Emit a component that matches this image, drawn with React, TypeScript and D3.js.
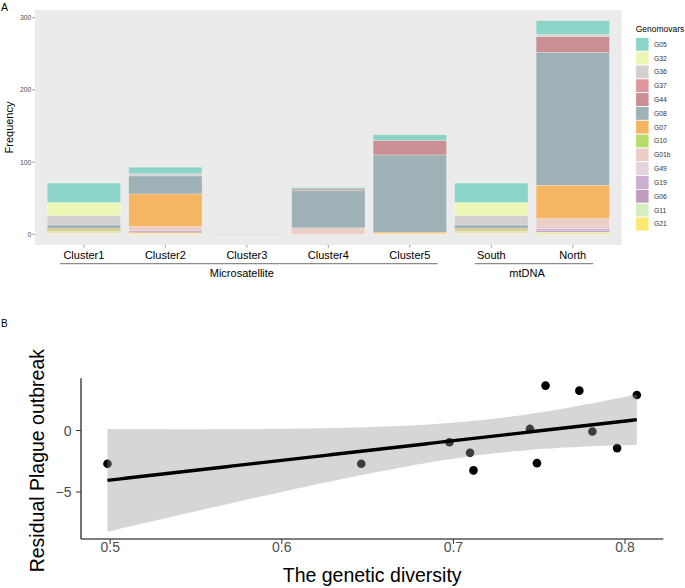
import React from "react";
import * as d3 from "d3";

// ---------- Panel A data ----------
const categories = ["Cluster1", "Cluster2", "Cluster3", "Cluster4", "Cluster5", "South", "North"];
const categoryGroup = ["Microsatellite", "Microsatellite", "Microsatellite", "Microsatellite", "Microsatellite", "mtDNA", "mtDNA"];
const groupLabels = ["Microsatellite", "mtDNA"];
const genomovars = ["G05", "G32", "G36", "G37", "G44", "G08", "G07", "G10", "G01b", "G49", "G19", "G06", "G11", "G21"];
const genomovarColors = ["#8dd4c8", "#edf7b5", "#d3d0cf", "#e0959e", "#c98f94", "#9eb1b7", "#f6b562", "#b8dc6b", "#ebcfc6", "#e4d3dc", "#cbaed0", "#c09dbf", "#d5edbf", "#fde872"];
// values per category (Cluster1..North)
const G05 = [27, 9, 0, 2, 8, 27, 19];
const G32 = [18, 0, 0, 0, 0, 18, 0];
const G36 = [13, 3, 0, 0, 0, 13, 3];
const G37 = [0, 0, 0, 0, 0, 0, 0];
const G44 = [0, 0, 0, 2, 20, 0, 22];
const G08 = [5, 25, 0, 52, 107, 5, 184];
const G07 = [2, 45, 0, 0, 2, 2, 46];
const G10 = [2, 0, 0, 0, 0, 2, 0];
const G01b = [2, 6, 0, 9, 0, 2, 14];
const G49 = [0, 0, 0, 0, 0, 0, 0];
const G19 = [0, 3, 0, 0, 0, 0, 3];
const G06 = [0, 0, 0, 0, 0, 0, 2];
const G11 = [1, 0, 0, 0, 0, 1, 1];
const G21 = [1, 2, 0, 0, 1, 1, 2];
const seriesValues = [G05, G32, G36, G37, G44, G08, G07, G10, G01b, G49, G19, G06, G11, G21];
const frequencyTicks = [0, 100, 200, 300];

// ---------- Panel B data ----------
const diversity = [0.4984, 0.6463, 0.6977, 0.7097, 0.7117, 0.7446, 0.7487, 0.7537, 0.7734, 0.781, 0.7954, 0.8069];
const residual = [-2.7, -2.7, -0.95, -1.81, -3.24, 0.13, -2.65, 3.65, 3.24, -0.08, -1.43, 2.89];
const diversityTicks = [0.5, 0.6, 0.7, 0.8];
const residualTicks = [-5, 0];
const T_CRIT = 2.228; // t(0.975, df = n - 2 = 10)

const FONT = "'Liberation Sans', Arial, Helvetica, sans-serif";

function PanelA() {
  const left = 35, right = 621.7, top = 10, bottom = 245;
  const x = d3.scalePoint<string>().domain(categories).range([left, right]).padding(0.6);
  const step = x.step();
  const barW = step * 0.9;

  const totals = categories.map((_, i) => d3.sum(seriesValues, (s) => s[i]));
  const maxT = d3.max(totals) as number;
  const y = d3.scaleLinear().domain([-0.05 * maxT, maxT * 1.05]).range([bottom, top]);

  const table = categories.map((c, i) => {
    const row: any = { cat: c };
    genomovars.forEach((g, k) => (row[g] = seriesValues[k][i]));
    return row;
  });
  // stack bottom-up: last genomovar (G21) at bottom, G05 at top
  const stackKeys = genomovars.slice().reverse();
  const stacked = d3.stack<any>().keys(stackKeys)(table);

  const groupExtents = groupLabels.map((g) => {
    const cats = categories.filter((_, i) => categoryGroup[i] === g);
    const first = x(cats[0]) as number;
    const last = x(cats[cats.length - 1]) as number;
    return { g, first, last };
  });

  const keyX = 635.7, keyTop = 37.4, keyStep = 13.82, keyW = 13.3;

  return (
    <g>
      <text x={1} y={10.5} fontSize={10.5} fontFamily={FONT} fill="#000">A</text>
      <rect x={left} y={top} width={right - left} height={bottom - top} fill="#ebebeb" />
      {stacked.map((layer) => {
        const gi = genomovars.indexOf(layer.key);
        return layer.map((d, i) => {
          const v = d[1] - d[0];
          if (v <= 0) return null;
          const cx = x(categories[i]) as number;
          return (
            <rect
              key={layer.key + i}
              x={cx - barW / 2}
              y={y(d[1])}
              width={barW}
              height={y(d[0]) - y(d[1])}
              fill={genomovarColors[gi]}
              stroke="#ffffff"
              strokeOpacity={0.35}
              strokeWidth={0.7}
            />
          );
        });
      })}
      {categories.map((c, i) =>
        totals[i] === 0 ? (
          <line key={"z" + c} x1={(x(c) as number) - barW / 2} x2={(x(c) as number) + barW / 2} y1={y(0)} y2={y(0)} stroke="#e2dfcf" strokeWidth={0.8} />
        ) : null
      )}
      {/* y axis */}
      {frequencyTicks.map((t) => (
        <g key={t}>
          <line x1={left - 2.7} x2={left} y1={y(t)} y2={y(t)} stroke="#333" strokeWidth={0.5} />
          <text x={left - 3.6} y={y(t) + 2.4} fontSize={6.8} textAnchor="end" fontFamily={FONT} fill="#4d4d4d">{t}</text>
        </g>
      ))}
      <text transform={`translate(12.5, ${(top + bottom) / 2}) rotate(-90)`} fontSize={11} textAnchor="middle" fontFamily={FONT} fill="#000">Frequency</text>
      {/* x axis */}
      {categories.map((c) => (
        <g key={c}>
          <line x1={x(c) as number} x2={x(c) as number} y1={bottom} y2={bottom + 2.7} stroke="#333" strokeWidth={0.5} />
          <text x={x(c) as number} y={259.2} fontSize={11} textAnchor="middle" fontFamily={FONT} fill="#000">{c}</text>
        </g>
      ))}
      {groupExtents.map(({ g, first, last }) => {
        const labelPad = g === "mtDNA" ? [16.5, 20.5] : [24, 28];
        return (
          <g key={g}>
            <line x1={first - labelPad[0]} x2={last + labelPad[1]} y1={263.7} y2={263.7} stroke="#333" strokeWidth={0.7} />
            <text x={(first + last) / 2 - 5} y={277.3} fontSize={11} textAnchor="middle" fontFamily={FONT} fill="#000">{g}</text>
          </g>
        );
      })}
      {/* legend */}
      <text x={keyX} y={32.3} fontSize={8.5} fontFamily={FONT} fill="#000">Genomovars</text>
      {genomovars.map((g, k) => (
        <g key={g}>
          <rect x={keyX} y={keyTop + k * keyStep} width={keyW} height={keyStep} fill={genomovarColors[k]} stroke="#ffffff" strokeWidth={0.8} />
          <text x={654} y={keyTop + k * keyStep + keyStep / 2 + 2.4} fontSize={6.8} fontFamily={FONT} fill="#333">{g}</text>
        </g>
      ))}
    </g>
  );
}

function PanelB() {
  const left = 81, right = 663.3, top = 378.3, bottom = 539;
  const xMin = d3.min(diversity) as number, xMax = d3.max(diversity) as number;
  const n = diversity.length;
  const mx = d3.mean(diversity) as number;
  const my = d3.mean(residual) as number;
  const sxx = d3.sum(diversity, (v) => (v - mx) ** 2);
  const sxy = d3.sum(diversity, (v, i) => (v - mx) * (residual[i] - my));
  const slope = sxy / sxx;
  const intercept = my - slope * mx;
  const fit = (v: number) => intercept + slope * v;
  const sse = d3.sum(diversity, (v, i) => (residual[i] - fit(v)) ** 2);
  const s = Math.sqrt(sse / (n - 2));
  const grid = d3.range(0, 81).map((k) => xMin + ((xMax - xMin) * k) / 80);
  const band = grid.map((v) => {
    const se = s * Math.sqrt(1 / n + (v - mx) ** 2 / sxx);
    return { v, f: fit(v), lo: fit(v) - T_CRIT * se, hi: fit(v) + T_CRIT * se };
  });
  const yLo = Math.min(d3.min(band, (b) => b.lo) as number, d3.min(residual) as number);
  const yHi = Math.max(d3.max(band, (b) => b.hi) as number, d3.max(residual) as number);
  const xPad = (xMax - xMin) * 0.05, yPad = (yHi - yLo) * 0.05;
  const x = d3.scaleLinear().domain([xMin - xPad, xMax + xPad]).range([left, right]);
  const y = d3.scaleLinear().domain([yLo - yPad, yHi + yPad]).range([bottom, top]);

  const area = d3.area<any>().x((b) => x(b.v)).y0((b) => y(b.lo)).y1((b) => y(b.hi));
  const line = d3.line<any>().x((b) => x(b.v)).y((b) => y(b.f));

  return (
    <g>
      <text x={1} y={327.3} fontSize={10} fontFamily={FONT} fill="#000">B</text>
      {diversity.map((v, i) => (
        <circle key={i} cx={x(v)} cy={y(residual[i])} r={4.3} fill="#000" />
      ))}
      <path d={area(band) as string} fill="#999999" fillOpacity={0.4} />
      <path d={line(band) as string} fill="none" stroke="#000" strokeWidth={3.4} />
      {/* axes */}
      <line x1={left} x2={left} y1={top} y2={bottom} stroke="#000" strokeWidth={1.1} />
      <line x1={left} x2={right} y1={bottom} y2={bottom} stroke="#000" strokeWidth={1.1} />
      {residualTicks.map((t) => (
        <g key={t}>
          <line x1={left - 5} x2={left} y1={y(t)} y2={y(t)} stroke="#333" strokeWidth={1} />
          <text x={left - 9.5} y={y(t) + 5} fontSize={14} textAnchor="end" fontFamily={FONT} fill="#4d4d4d">{t === 0 ? "0" : "\u2212" + Math.abs(t)}</text>
        </g>
      ))}
      {diversityTicks.map((t) => (
        <g key={t}>
          <line x1={x(t)} x2={x(t)} y1={bottom} y2={bottom + 5} stroke="#333" strokeWidth={1} />
          <text x={x(t)} y={551.8} fontSize={14} textAnchor="middle" fontFamily={FONT} fill="#4d4d4d">{t.toFixed(1)}</text>
        </g>
      ))}
      <text x={(left + right) / 2} y={582} fontSize={19.5} textAnchor="middle" fontFamily={FONT} fill="#000">The genetic diversity</text>
      <text transform={`translate(44, ${(top + bottom) / 2 + 2}) rotate(-90)`} fontSize={19.5} textAnchor="middle" fontFamily={FONT} fill="#000">Residual Plague outbreak</text>
    </g>
  );
}

export default function App() {
  return (
    <svg width={685} height={588} style={{ position: "absolute", left: 0, top: 0, background: "#fff" }}>
      <rect x={0} y={0} width={685} height={588} fill="#fff" />
      <PanelA />
      <PanelB />
    </svg>
  );
}
